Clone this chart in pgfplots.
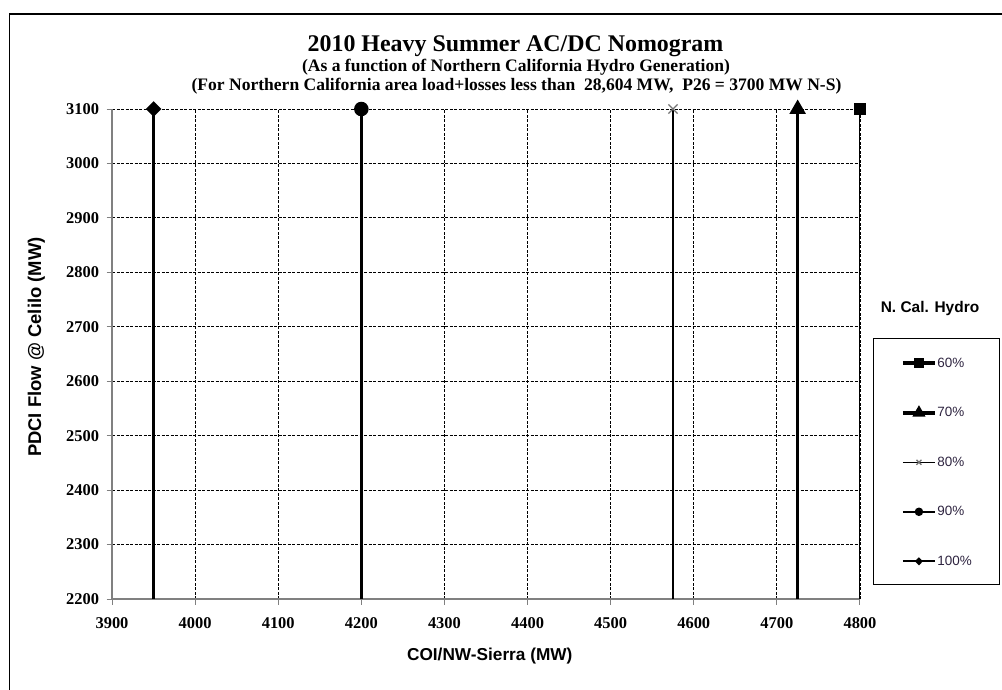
\documentclass[border=0pt]{standalone}
\usepackage{fontspec}
\setmainfont{Liberation Serif}
\newfontfamily\arialfont{Liberation Sans}
\usepackage{pgfplots}
\pgfplotsset{compat=1.18}
\definecolor{axgray}{HTML}{808080}
\definecolor{legtext}{HTML}{2E2440}

\begin{document}
\begin{tikzpicture}
\useasboundingbox (0,0) rectangle (1002bp,-690bp);
% outer chart frame (cut at right and bottom)
\draw[line width=1.5bp] (9.5bp,-690bp) -- (9.5bp,-14bp) -- (1002bp,-14bp);

% titles
\node[anchor=base, inner sep=0] at (515.5bp,-51bp) {\fontsize{24}{26}\selectfont\bfseries 2010 Heavy Summer AC/DC Nomogram};
\node[anchor=base, inner sep=0] at (516bp,-71.5bp) {\fontsize{17.6}{19}\selectfont\bfseries (As a function of Northern California Hydro Generation)};
\node[anchor=base, inner sep=0] at (516.5bp,-90bp) {\fontsize{17.6}{19}\selectfont\bfseries (For Northern California area load+losses less than\ \ 28,604 MW,\ \ P26 = 3700 MW N-S)};

% legend title and box
\node[anchor=base, inner sep=0] at (930bp,-312.5bp) {\arialfont\fontsize{15.5}{17}\selectfont\bfseries N. Cal. Hydro};
\draw[line width=0.8bp, fill=white] (873.5bp,-338bp) rectangle (999bp,-584bp);

\begin{axis}[
  at={(112bp,-599bp)}, anchor=south west,
  scale only axis,
  width=748bp, height=490bp,
  xmin=3900, xmax=4800,
  ymin=2200, ymax=3100,
  xtick={3900,4000,...,4800},
  ytick={2200,2300,...,3100},
  axis x line*=bottom, axis y line*=left,
  axis line style={axgray, line width=1.2bp, -},
  tick align=outside,
  major tick length=5.5bp,
  tick style={axgray, line width=1bp},
  xtick pos=bottom, ytick pos=left,
  grid=major,
  grid style={black, line width=0.8bp, dash pattern=on 3bp off 1.5bp},
  /pgf/number format/1000 sep={},
  /pgf/number format/assume math mode=true,
  tick label style={font=\fontsize{16.5}{18}\selectfont\bfseries},
  yticklabel style={xshift=-4bp},
  xticklabel style={yshift=-10bp},
  xlabel={COI/NW-Sierra (MW)},
  ylabel={PDCI Flow @ Celilo (MW)},
  label style={font=\arialfont\fontsize{17.3}{19}\selectfont\bfseries},
  xlabel style={at={(axis description cs:0.505,-0.1265)}, anchor=base},
  ylabel style={at={(axis description cs:-0.101,0.514)}, anchor=center, font=\arialfont\fontsize{18.5}{20}\selectfont\bfseries},
  legend style={at={(rel axis cs:1.0545,0.4925)}, anchor=north west,
    draw=none, fill=none, inner sep=0pt, row sep=38.6bp, column sep=0pt,
    font=\arialfont\fontsize{13.5}{14}\selectfont, text=legtext,
    nodes={inner xsep=0.5bp, inner ysep=0pt}},
  legend cell align=left,
  legend image code/.code={%
    \draw[#1, mark indices={2}]
      plot coordinates {(0bp,0bp) (16bp,0bp) (32bp,0bp)};},
]
% 60%
\addplot[black, line width=2.5bp, mark=square*, mark size=5bp, mark indices={1},
  legend image post style={line width=4bp, mark size=3bp}]
  coordinates {(4800,3100) (4800,2200)};
% 70%
\addplot[black, line width=2.5bp, mark=triangle*, mark size=7bp, mark indices={1},
  legend image post style={line width=4bp, mark size=3.6bp}]
  coordinates {(4725,3100) (4725,2200)};
% 80%
\addplot[black, line width=2bp, mark=x, mark size=6.5bp, mark indices={1},
  mark options={black!55, line width=1.3bp},
  legend image post style={line width=1.5bp, mark size=3.5bp}]
  coordinates {(4575,3100) (4575,2200)};
% 90%
\addplot[black, line width=2.5bp, mark=*, mark size=6bp, mark indices={1},
  legend image post style={line width=2bp, mark size=3.2bp}]
  coordinates {(4200,3100) (4200,2200)};
% 100%
\addplot[black, line width=2.5bp, mark=diamond*, mark size=6bp, mark indices={1},
  mark options={xscale=1.33},
  legend image post style={line width=2bp, mark size=2.6bp}]
  coordinates {(3950,3100) (3950,2200)};
\legend{60\%, 70\%, 80\%, 90\%, 100\%}
\end{axis}
\end{tikzpicture}
\end{document}
